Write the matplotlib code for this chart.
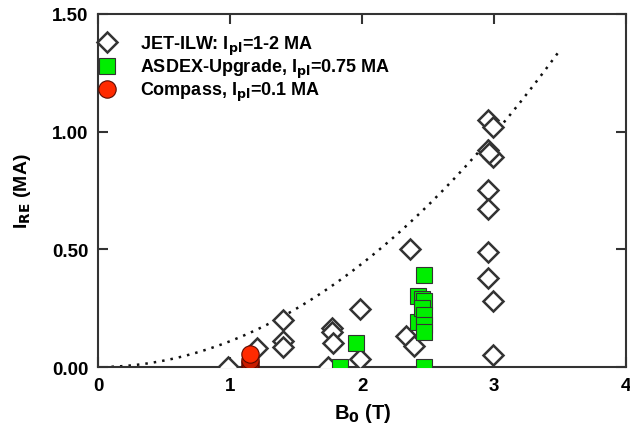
import matplotlib
matplotlib.use("Agg")
import matplotlib.pyplot as plt
import numpy as np

plt.rcParams['font.family'] = ['Liberation Sans', 'DejaVu Sans']
plt.rcParams['font.weight'] = 'bold'
plt.rcParams['mathtext.default'] = 'bf'

# JET-ILW runaway currents
jet_b = [0.98, 1.20, 1.40, 1.40, 1.40, 1.74, 1.77, 1.77, 1.78, 1.98, 1.98,
         2.36, 2.33, 2.39,
         2.95, 2.99, 2.95, 2.99, 2.96, 2.95, 2.95, 2.95, 2.95, 2.99, 2.99]
jet_i = [0.00, 0.08, 0.20, 0.11, 0.085, 0.00, 0.165, 0.15, 0.10, 0.247, 0.035,
         0.50, 0.13, 0.09,
         1.05, 1.02, 0.92, 0.89, 0.91, 0.75, 0.67, 0.49, 0.38, 0.28, 0.05]

# ASDEX-Upgrade
aug_b = [1.83, 1.95, 2.42, 2.42, 2.45, 2.47, 2.47, 2.45, 2.47, 2.47, 2.47, 2.47]
aug_i = [0.00, 0.10, 0.30, 0.19, 0.29, 0.28, 0.39, 0.25, 0.22, 0.18, 0.15, 0.00]

# Compass
com_b = [1.15, 1.15, 1.15, 1.15]
com_i = [0.00, 0.015, 0.03, 0.055]
com_col = ['#8b0c00', '#a81500', '#c81c00', '#ff2a00']

# Scaling curve I_RE ~ k * B0^2
k_fit = 0.11
b_fit = np.linspace(0.1, 3.5, 200)

fig = plt.figure(figsize=(6.3, 4.35), dpi=100)
ax = fig.add_axes([0.156, 0.154, 0.838, 0.812])

ax.plot(b_fit, k_fit * b_fit**2, color='#111111', linestyle=(0, (1, 2.4)),
        linewidth=1.8, zorder=1)

ax.plot(jet_b, jet_i, linestyle='none', marker='D', markersize=10,
        markerfacecolor='white', markeredgecolor='#333333',
        markeredgewidth=1.8, zorder=3,
        label=r'JET-ILW: I$_{\mathbf{pl}}$=1-2 MA')
ax.plot(aug_b, aug_i, linestyle='none', marker='s', markersize=11.5,
        markerfacecolor='#00ee00', markeredgecolor='#333333',
        markeredgewidth=0.8, zorder=4,
        label=r'ASDEX-Upgrade, I$_{\mathbf{pl}}$=0.75 MA')
for b, i, c in zip(com_b, com_i, com_col):
    ax.plot(b, i, linestyle='none', marker='o', markersize=12.5,
            markerfacecolor=c, markeredgecolor='#5a0a00',
            markeredgewidth=0.8, zorder=5)
ax.plot([], [], linestyle='none', marker='o', markersize=12.5,
        markerfacecolor='#ff2a00', markeredgecolor='#5a0a00',
        markeredgewidth=0.8, label=r'Compass, I$_{\mathbf{pl}}$=0.1 MA')

ax.set_xlim(0, 4)
ax.set_ylim(0, 1.5)
ax.set_xticks([0, 1, 2, 3, 4])
ax.set_yticks([0, 0.5, 1.0, 1.5])
ax.set_yticklabels(['0.00', '0.50', '1.00', '1.50'])
ax.tick_params(direction='in', length=7, width=1.5, color='#333333',
               top=True, right=True, labelsize=13.5, pad=7)
for lab in ax.get_xticklabels() + ax.get_yticklabels():
    lab.set_fontweight('bold')
for sp in ax.spines.values():
    sp.set_linewidth(1.5)
    sp.set_color('#333333')

ax.set_xlabel(r'B$_{\mathbf{0}}$ (T)', fontsize=14.5, fontweight='bold', labelpad=5)
ax.set_ylabel(r'I$_{\mathbf{RE}}$ (MA)', fontsize=14, fontweight='bold', labelpad=14)

leg = ax.legend(loc='upper left', bbox_to_anchor=(0.0, 0.944), frameon=False,
                handletextpad=1.3, borderaxespad=0, borderpad=0,
                labelspacing=0.0, handlelength=1.0,
                prop={'weight': 'bold', 'size': 13})

fig.savefig('out.png', dpi=100)
